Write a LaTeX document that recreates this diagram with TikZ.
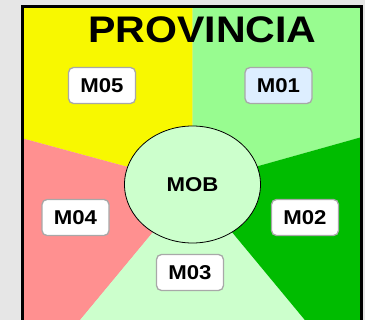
\documentclass[tikz,border=0pt]{standalone}
\usepackage{xcolor}
\usepackage{tikz}
\usepackage{fontspec}
\setmainfont{Liberation Sans}
\usetikzlibrary{shapes.geometric}
\definecolor{provyellow}{HTML}{F8F800}
\definecolor{provlime}{HTML}{98FC90}
\definecolor{provgreen}{HTML}{00BC00}
\definecolor{provpink}{HTML}{FF9090}
\definecolor{provpale}{HTML}{CCFFCC}
\definecolor{provblue}{HTML}{DDEEFF}
\definecolor{provback}{HTML}{E6E6E6}
\definecolor{provedge}{HTML}{A8A8A8}
\newcommand{\ancho}[1]{\scalebox{1.11}[1]{#1}}
\begin{document}
\begin{tikzpicture}[x=1pt,y=1pt]
	\tikzstyle{every node}+=[inner sep=0pt]
	\tikzstyle{zona}=[draw=provedge, line width=1.3pt, rounded corners=5pt, fill=white, minimum width=67pt, minimum height=36pt, font=\fontsize{20}{20}\selectfont\bfseries]
	\useasboundingbox (0,0) rectangle (365,-320);
	\fill [provback] (0,0) rectangle (365,-320);
	\coordinate (c) at (192.5,-184.5);
	\fill [provyellow] (c) -- (192.5,-6.5) -- (22.5,-6.5) -- (22.5,-138.4) -- cycle;
	\fill [provlime] (c) -- (192.5,-6.5) -- (361.5,-6.5) -- (361.5,-137.1) -- cycle;
	\fill [provpink] (c) -- (22.5,-138.4) -- (22.5,-322) -- (78.5,-322) -- cycle;
	\fill [provpale] (c) -- (78.5,-322) -- (306.5,-322) -- cycle;
	\fill [provgreen] (c) -- (306.5,-322) -- (361.5,-322) -- (361.5,-137.1) -- cycle;
	\draw [black, line width=3pt] (22.5,-322) -- (22.5,-6.5) -- (361.5,-6.5) -- (361.5,-322);
	\node (mob) [ellipse, draw=black, line width=0.8pt, fill=provpale, minimum width=136pt, minimum height=117pt, font=\fontsize{20}{20}\selectfont\bfseries] at (c) {\ancho{MOB}};
	\node (titulo) [anchor=base, font=\fontsize{37}{37}\selectfont\bfseries] at (202.5,-42.3) {\ancho{PROVINCIA}};
	\node (m05) [zona] at (102,-85.5) {\ancho{M05}};
	\node (m01) [zona, fill=provblue] at (278.5,-85.5) {\ancho{M01}};
	\node (m04) [zona] at (75.5,-217.5) {\ancho{M04}};
	\node (m02) [zona] at (305,-217.5) {\ancho{M02}};
	\node (m03) [zona] at (190,-272.5) {\ancho{M03}};
\end{tikzpicture}
\end{document}
